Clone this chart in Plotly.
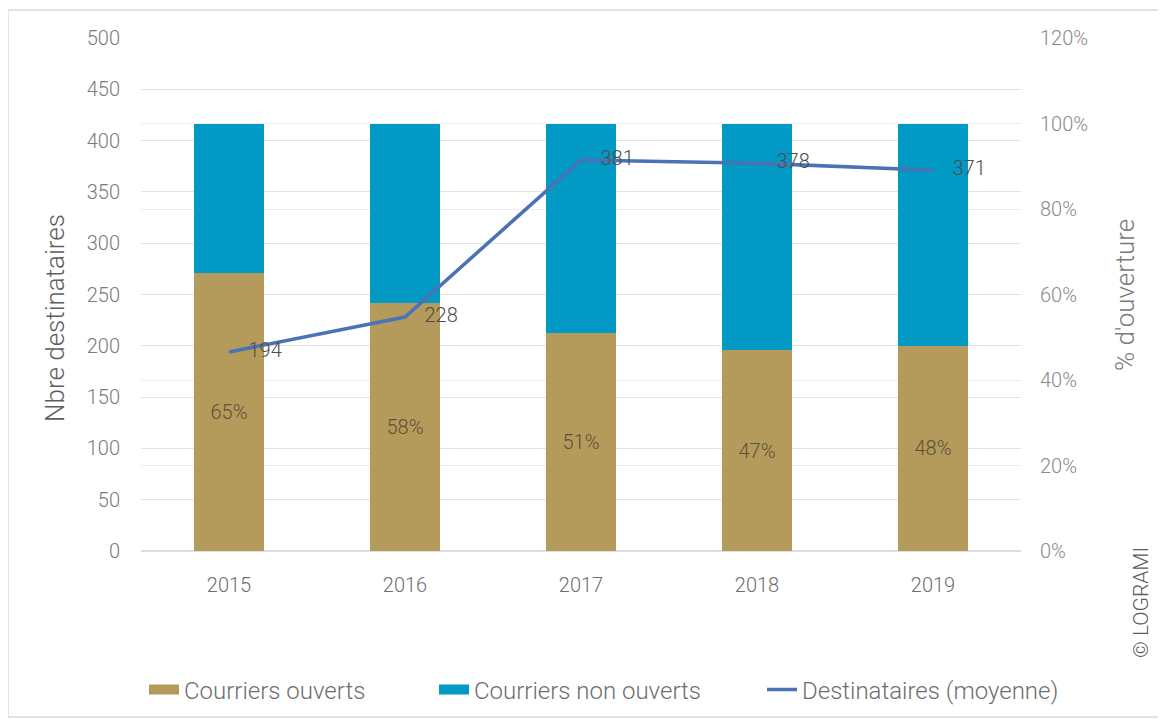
import plotly.graph_objects as go

years = ["2015", "2016", "2017", "2018", "2019"]
pct_ouverts = [65, 58, 51, 47, 48]
pct_non_ouverts = [35, 42, 49, 53, 52]
destinataires = [194, 228, 381, 378, 371]

FONT = "Roboto, 'Liberation Sans', sans-serif"
GRAY = "#808080"
GOLD = "#b49b5b"
BLUE = "#0399c5"
LINE = "#4a72b5"

# page offset (default body margin of the html page)
OFF = 8
W, H = 1166 - OFF, 727 - OFF
# plot area in page coordinates
PL, PR, PT, PB = 141, 1021, 38, 551
L, T = PL - OFF, PT - OFF
R = W - (PR - OFF)
B = H - (PB - OFF)
pw = PR - PL
ph = PB - PT


def px(x):
    return (x - PL) / pw


def py(y):
    return (PB - y) / ph


fig = go.Figure()

fig.add_trace(go.Bar(
    x=years, y=pct_ouverts, name="Courriers ouverts",
    marker=dict(color=GOLD, line=dict(width=0)),
    text=[f"{v}%" for v in pct_ouverts], textposition="inside",
    insidetextanchor="middle",
    textfont=dict(family=FONT, size=20, color="#5c5138", weight=300),
    width=0.4, yaxis="y", showlegend=False,
))
fig.add_trace(go.Bar(
    x=years, y=pct_non_ouverts, name="Courriers non ouverts",
    marker=dict(color=BLUE, line=dict(width=0)),
    width=0.4, yaxis="y", showlegend=False,
))
fig.add_trace(go.Scatter(
    x=years, y=destinataires, name="Destinataires (moyenne)",
    mode="lines+text", line=dict(color=LINE, width=3.5),
    text=[str(v) for v in destinataires], textposition="middle right",
    texttemplate="\u00a0\u00a0\u00a0\u00a0%{text}",
    textfont=dict(family=FONT, size=20, color="#4d4d4d", weight=300),
    yaxis="y2", cliponaxis=False, showlegend=False,
))

# legend entries (one legend per entry, positioned like the original)
legend_items = [("Courriers ouverts", GOLD, 10, "legend", 185),
                ("Courriers non ouverts", BLUE, 10, "legend2", 475),
                ("Destinataires (moyenne)", LINE, 3.5, "legend3", 803)]
for name, col, w, lg, _ in legend_items:
    fig.add_trace(go.Scatter(
        x=[None], y=[None], name=name, mode="lines",
        line=dict(color=col, width=w), yaxis="y2", showlegend=True, legend=lg,
    ))

legend_style = dict(
    orientation="h", yanchor="middle", xanchor="left",
    font=dict(family=FONT, size=24, color="#6e6e6e", weight=300),
    itemwidth=30, bgcolor="rgba(0,0,0,0)",
)
legends = {}
for name, col, w, lg, text_x in legend_items:
    legends[lg] = dict(legend_style, x=px(text_x - 41), y=py(690))

fig.update_layout(
    width=W, height=H,
    margin=dict(l=L, r=R, t=T, b=B),
    paper_bgcolor="white", plot_bgcolor="white",
    barmode="stack",
    font=dict(family=FONT, size=20, color=GRAY, weight=300),
    xaxis=dict(
        type="category", showgrid=False, showline=False, zeroline=False,
        ticks="", tickfont=dict(family=FONT, size=20, color="#6e6e6e", weight=300),
        ticklabelstandoff=20,
    ),
    yaxis=dict(
        side="right", range=[0, 120], dtick=20, ticksuffix="%",
        showgrid=True, gridcolor="#ededed", gridwidth=1,
        zeroline=True, zerolinecolor="#dcdcdc", zerolinewidth=1.5,
        showline=False, ticks="",
        tickfont=dict(family=FONT, size=20, color="#8a8a8a", weight=300),
        ticklabelstandoff=18,
    ),
    yaxis2=dict(
        overlaying="y", side="left", range=[0, 500], dtick=50,
        showgrid=True, gridcolor="#e2e2e2", gridwidth=1,
        zeroline=False, showline=False, ticks="",
        tickfont=dict(family=FONT, size=20, color="#7a7a7a", weight=300),
        ticklabelstandoff=20,
    ),
    **legends,
    annotations=[
        dict(text="Nbre destinataires", x=px(55), y=py(318), xref="paper", yref="paper",
             xanchor="center", yanchor="middle", textangle=-90, showarrow=False,
             font=dict(family=FONT, size=26, color="#5e5e5e", weight=300)),
        dict(text="% d'ouverture", x=px(1125), y=py(295), xref="paper", yref="paper",
             xanchor="center", yanchor="middle", textangle=-90, showarrow=False,
             font=dict(family=FONT, size=26, color="#7a7a7a", weight=300)),
        dict(text="© LOGRAMI", x=px(1141), y=py(603), xref="paper", yref="paper",
             xanchor="center", yanchor="middle", textangle=-90, showarrow=False,
             font=dict(family=FONT, size=21, color="#5a5a5a")),
    ],
    shapes=[
        dict(type="rect", xref="paper", yref="paper",
             x0=px(8), x1=px(1159), y0=py(717), y1=py(10),
             line=dict(color="#d9d9d9", width=1.5), fillcolor="rgba(0,0,0,0)", layer="below"),
    ],
)

fig.write_html("out.html")
